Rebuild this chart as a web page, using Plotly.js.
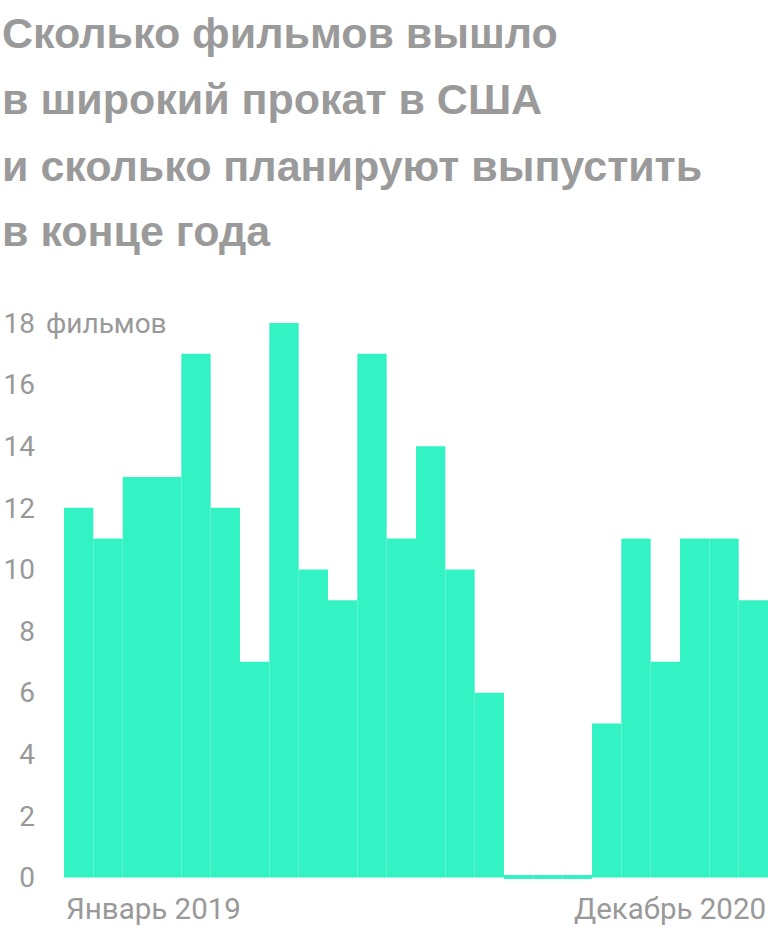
<!DOCTYPE html>
<html>
<head>
<meta charset="utf-8">
<script src="https://cdn.plot.ly/plotly-3.0.1.min.js"></script>
<style>
  html, body { margin: 0; padding: 0; background: #ffffff; }
  #chart { width: 768px; height: 930px; }
</style>
</head>
<body>
<div id="chart"></div>
<script>
// ---- data ----
const months = [
  'Январь 2019', 'Февраль 2019', 'Март 2019', 'Апрель 2019', 'Май 2019', 'Июнь 2019',
  'Июль 2019', 'Август 2019', 'Сентябрь 2019', 'Октябрь 2019', 'Ноябрь 2019', 'Декабрь 2019',
  'Январь 2020', 'Февраль 2020', 'Март 2020', 'Апрель 2020', 'Май 2020', 'Июнь 2020',
  'Июль 2020', 'Август 2020', 'Сентябрь 2020', 'Октябрь 2020', 'Ноябрь 2020', 'Декабрь 2020'
];
const films = [12, 11, 13, 13, 17, 12, 7, 18, 10, 9, 17, 11, 14, 10, 6, 0, 0, 0, 5, 11, 7, 11, 11, 9];
const yTickValues = [0, 2, 4, 6, 8, 10, 12, 14, 16, 18];
const yTickLabels = ['0', '2', '4', '6', '8', '10', '12', '14', '16', '18'];
const unitLabel = 'фильмов';
const titleLines = [
  'Сколько фильмов вышло',
  'в широкий прокат в США',
  'и сколько планируют выпустить',
  'в конце года'
];
const firstLabel = 'Январь 2019';
const lastLabel = 'Декабрь 2020';

// ---- style ----
const BAR = '#33f3c4';
const GREY = '#999999';
const FONT = 'Roboto, "Noto Sans", sans-serif';
const TITLE_FONT = '"Liberation Sans", Arial, sans-serif';
const TITLE_LINE_SHIFTS = [290, 224, 157, 92];

const trace = {
  type: 'bar',
  x: months,
  y: films,
  marker: {
    color: BAR,
    line: {
      color: BAR,
      width: films.map(v => (v === 0 ? 5 : 0))
    }
  },
  hoverinfo: 'x+y'
};

const titleAnnotations = titleLines.map((line, i) => ({
  text: '<b>' + line + '</b>',
  xref: 'paper', x: -64 / 704, xanchor: 'left',
  yref: 'paper', y: 1, yanchor: 'middle', yshift: TITLE_LINE_SHIFTS[i],
  showarrow: false,
  font: { family: TITLE_FONT, size: 43, color: '#9a9a9a' }
}));

const layout = {
  width: 768,
  height: 930,
  margin: { l: 64, r: 0, t: 323, b: 51, pad: 0 },
  paper_bgcolor: '#ffffff',
  plot_bgcolor: '#ffffff',
  bargap: 0,
  showlegend: false,
  font: { family: FONT, color: GREY, size: 28 },
  xaxis: {
    type: 'category',
    showticklabels: false,
    ticks: '',
    showgrid: false,
    zeroline: false,
    showline: false,
    range: [-0.5, months.length - 0.5]
  },
  yaxis: {
    range: [-0.05, 18],
    tickmode: 'array',
    tickvals: yTickValues,
    ticktext: yTickLabels,
    ticks: '',
    ticklabelstandoff: 28,
    tickfont: { family: FONT, size: 28, color: GREY },
    showgrid: false,
    zeroline: false,
    showline: false
  },
  annotations: titleAnnotations.concat([
    {
      text: unitLabel, xref: 'paper', x: -20 / 704, xanchor: 'left',
      yref: 'y', y: 18, yanchor: 'middle', showarrow: false,
      font: { family: FONT, size: 28, color: GREY }
    },
    {
      text: firstLabel, xref: 'x', x: -0.5, xanchor: 'left',
      yref: 'paper', y: 0, yanchor: 'top', yshift: -11, showarrow: false,
      font: { family: FONT, size: 29.5, color: GREY }
    },
    {
      text: lastLabel, xref: 'x', x: months.length - 0.5, xanchor: 'right',
      yref: 'paper', y: 0, yanchor: 'top', yshift: -11, showarrow: false,
      font: { family: FONT, size: 29.5, color: GREY }
    }
  ])
};

Plotly.newPlot('chart', [trace], layout, { displayModeBar: false, staticPlot: true });
</script>
</body>
</html>
